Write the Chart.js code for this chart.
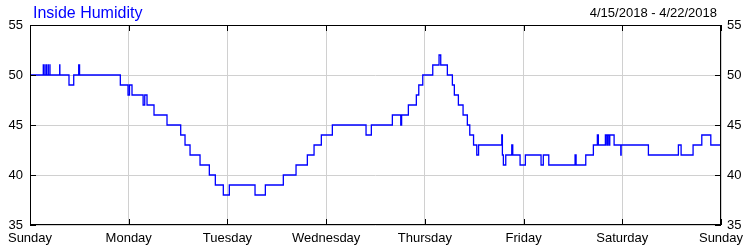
<!DOCTYPE html>
<html>
<head>
<meta charset="utf-8">
<script src="https://cdn.jsdelivr.net/npm/chart.js@4.4.0/dist/chart.umd.min.js"></script>
<style>
  html, body { margin: 0; padding: 0; background: #fff; }
  #wrap { width: 750px; height: 250px; }
</style>
</head>
<body>
<div id="wrap"><canvas id="humChart" width="750" height="250"></canvas></div>
<script>
// Texte
const titleText = 'Inside Humidity';
const dateText = '4/15/2018 - 4/22/2018';

// Achsen
const dayLabels = ['Sunday', 'Monday', 'Tuesday', 'Wednesday', 'Thursday', 'Friday', 'Saturday', 'Sunday'];
const yTicks = [35, 40, 45, 50, 55];

// Stunden seit Sonntag 0:00, ab denen der Wert gilt
const hours = [
    0, 3.23, 3.25, 3.62, 3.64, 4.01, 4.03, 4.43, 4.45, 4.84, 4.86,
    7.22, 7.26, 9.48, 10.63, 11.84, 12.05,
    21.96, 23.83, 24.19, 24.80, 27.50, 27.90, 28.45,
    30.15, 33.31, 36.64, 37.69, 38.91, 41.34,
    43.60, 45.06, 47.00, 48.46, 54.71, 57.22,
    61.59, 64.68, 67.43, 69.06, 70.83, 73.51,
    81.70, 82.99, 88.10, 90.14, 90.35,
    91.99, 93.93, 94.52, 95.49, 97.92, 99.45, 99.86,
    101.47, 102.69, 103.17, 104.15, 105.29, 106.33, 106.92,
    107.84, 108.62, 109.06, 114.70, 114.85, 115.09, 115.67,
    117.13, 117.37, 119.15, 120.44, 124.25, 124.80, 126.13,
    132.52, 132.77, 135.12, 136.97, 137.94, 138.18,
    139.89, 140.23, 140.38, 140.72, 140.96, 142.01,
    143.64, 143.72, 150.35, 157.64, 158.30,
    161.21, 163.33, 165.52, 168
];

// Luftfeuchtigkeit innen (%)
const humidity = [
    50, 51, 50, 51, 50, 51, 50, 51, 50, 51, 50,
    51, 50, 49, 50, 51, 50,
    49, 48, 49, 48, 47, 48, 47,
    46, 45, 44, 43, 42, 41,
    40, 39, 38, 39, 38, 39,
    40, 41, 42, 43, 44, 45,
    44, 45, 46, 45, 46,
    47, 48, 49, 50, 51, 52, 51,
    50, 49, 48, 47, 46, 45, 44,
    43, 42, 43, 44, 42, 41, 42,
    43, 42, 41, 42, 41, 42, 41,
    42, 41, 42, 43, 44, 43,
    44, 43, 44, 43, 44, 43,
    42, 43, 42, 43, 42,
    43, 44, 43, 43
];

const points = hours.map((h, i) => ({ x: h, y: humidity[i] }));

// Rahmen, Ticks nach innen, Titel
const framePlugin = {
    id: 'frame',
    afterDraw(chart) {
        const { ctx, chartArea: a, scales } = chart;
        ctx.save();
        ctx.strokeStyle = '#000';
        ctx.lineWidth = 1;
        ctx.strokeRect(a.left + 0.5, a.top + 0.5, a.right - a.left - 1, a.bottom - a.top - 1);

        ctx.beginPath();
        scales.x.ticks.forEach(t => {
            const px = Math.round(scales.x.getPixelForValue(t.value)) + 0.5;
            ctx.moveTo(px, a.bottom);
            ctx.lineTo(px, a.bottom - 6);
            ctx.moveTo(px, a.top);
            ctx.lineTo(px, a.top + 6);
        });
        scales.y.ticks.forEach(t => {
            const py = Math.round(scales.y.getPixelForValue(t.value)) + 0.5;
            ctx.moveTo(a.left, py);
            ctx.lineTo(a.left + 6, py);
            ctx.moveTo(a.right, py);
            ctx.lineTo(a.right - 6, py);
        });
        ctx.stroke();

        ctx.textBaseline = 'alphabetic';
        ctx.font = '16px "Liberation Sans", Arial, sans-serif';
        ctx.fillStyle = '#0000ff';
        ctx.textAlign = 'left';
        ctx.fillText(titleText, 33, 18);

        ctx.font = '13px "Liberation Sans", Arial, sans-serif';
        ctx.fillStyle = '#000';
        ctx.textAlign = 'right';
        ctx.fillText(dateText, 717, 17);
        ctx.restore();
    }
};

const tickFont = { family: '"Liberation Sans", Arial, sans-serif', size: 13 };

const chart = new Chart(document.getElementById('humChart').getContext('2d'), {
    type: 'line',
    data: {
        datasets: [{
            label: titleText,
            data: points,
            borderColor: '#0000ff',
            borderWidth: 1.3,
            pointRadius: 0,
            stepped: true,
            fill: false
        }]
    },
    options: {
        responsive: false,
        animation: false,
        events: [],
        layout: { padding: { top: 25, left: 0, right: 0, bottom: 0 } },
        plugins: {
            legend: { display: false },
            tooltip: { enabled: false }
        },
        scales: {
            x: {
                type: 'linear',
                min: 0,
                max: 168,
                afterFit: scale => { scale.height = 25; },
                afterBuildTicks: scale => { scale.ticks = dayLabels.map((d, i) => ({ value: i * 24 })); },
                grid: { color: '#d0d0d0', drawTicks: false },
                border: { display: false },
                ticks: {
                    padding: 6,
                    color: '#000',
                    font: tickFont,
                    maxRotation: 0,
                    autoSkip: false,
                    callback: value => dayLabels[Math.round(value / 24)]
                }
            },
            y: {
                position: 'left',
                min: 35,
                max: 55,
                afterFit: scale => { scale.width = 30; },
                afterBuildTicks: scale => { scale.ticks = yTicks.map(v => ({ value: v })); },
                grid: { color: '#d0d0d0', drawTicks: false },
                border: { display: false },
                ticks: { padding: 7, color: '#000', font: tickFont }
            },
            y2: {
                position: 'right',
                min: 35,
                max: 55,
                afterFit: scale => { scale.width = 29; },
                afterBuildTicks: scale => { scale.ticks = yTicks.map(v => ({ value: v })); },
                grid: { display: false, drawTicks: false },
                border: { display: false },
                ticks: { padding: 6, color: '#000', font: tickFont }
            }
        }
    },
    plugins: [framePlugin]
});
</script>
</body>
</html>
